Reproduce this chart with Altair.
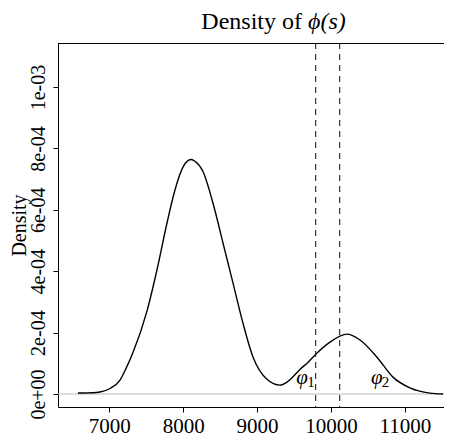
import altair as alt
import pandas as pd

# density curve
curve_x = [6576, 6780, 6874, 7010, 7145, 7230, 7321, 7510, 7645, 7781, 7889, 7997,
           8065, 8110, 8160, 8268, 8403, 8539, 8674, 8809, 8945, 9134, 9310, 9400,
           9486, 9580, 9689, 9784, 9987, 10217, 10393, 10623, 10839, 11069, 11340,
           11516]
curve_y = [3.3e-6, 4.0e-6, 6.5e-6, 1.8e-5, 4.56e-5, 8.5e-5, 1.35e-4, 2.7e-4, 4.04e-4,
           5.57e-4, 6.645e-4, 7.39e-4, 7.60e-4, 7.64e-4, 7.58e-4, 7.25e-4, 6.22e-4,
           4.92e-4, 3.62e-4, 2.31e-4, 1.205e-4, 4.8e-5, 2.9e-5, 3.8e-5, 5.6e-5,
           8.0e-5, 1.03e-4, 1.27e-4, 1.69e-4, 1.95e-4, 1.76e-4, 1.2e-4, 5.5e-5, 2e-5,
           3e-6, 0.0]

phi_values = [9793, 10118]
label_x = [9610, 10620]
label_y = [5.2e-5, 5.2e-5]
label_sub = ["1", "2"]

title_plain = "Density of"
title_math = "ϕ(s)"

x_ticks = [7000, 8000, 9000, 10000, 11000]
y_ticks = [0, 2e-4, 4e-4, 6e-4, 8e-4, 1e-3]
y_tick_labels = ["0e+00", "2e-04", "4e-04", "6e-04", "8e-04", "1e-03"]

W, H = 386, 364
FONT = "Liberation Serif"

df = pd.DataFrame({"x": curve_x, "y": curve_y})
phi_df = pd.DataFrame({"x": phi_values})
lab_df = pd.DataFrame({"x": label_x, "y": label_y, "sub": label_sub})

xscale = alt.Scale(domain=[6306, 11530], nice=False, zero=False)
yscale = alt.Scale(domain=[-4.23e-5, 1.1433e-3], nice=False, zero=False)

label_expr = "[" + ",".join(f"'{s}'" for s in y_tick_labels) + "][round(datum.value/2e-4)]"

xax = alt.Axis(values=x_ticks, format="d", title=None, grid=False, tickSize=5,
               labelPadding=3, labelFont=FONT, labelFontSize=21, labelColor="black",
               domainColor="black", tickColor="black", labelFlush=False)
yax = alt.Axis(values=y_ticks, labelExpr=label_expr, title="Density", grid=False,
               tickSize=5, labelAngle=-90, labelAlign="center", labelBaseline="bottom",
               labelPadding=5, labelFont=FONT, labelFontSize=20, labelColor="black",
               domainColor="black", tickColor="black", titleFont=FONT,
               titleFontSize=20, titleFontWeight="normal", titleColor="black",
               titleAngle=-90, titleAlign="center", titleBaseline="alphabetic",
               titleX=-33, titleY=H / 2, labelFlush=False)

base = alt.Chart(df)

zero_line = base.mark_rule(color="#bbbbbb", strokeWidth=1).encode(
    y=alt.Y("z:Q", scale=yscale, axis=yax)
).transform_calculate(z="0").transform_aggregate(z="min(z)")

top_line = base.mark_rule(color="black", strokeWidth=1).encode(
    y=alt.value(0.5)
)

curve = base.mark_line(color="black", strokeWidth=1.4, interpolate="monotone").encode(
    x=alt.X("x:Q", scale=xscale, axis=xax),
    y=alt.Y("y:Q", scale=yscale, axis=yax),
)

phis = alt.Chart(phi_df).mark_rule(color="#222222", strokeWidth=1.1,
                                   strokeDash=[6, 5]).encode(
    x=alt.X("x:Q", scale=xscale)
)

phi_text = alt.Chart(lab_df).mark_text(font=FONT, fontSize=21, fontStyle="italic",
                                       color="black", align="center",
                                       baseline="middle").encode(
    x=alt.X("x:Q", scale=xscale), y=alt.Y("y:Q", scale=yscale),
    text=alt.value("φ"),
)
sub_text = alt.Chart(lab_df).mark_text(font=FONT, fontSize=15, color="black",
                                       align="left", baseline="middle",
                                       dx=5, dy=4).encode(
    x=alt.X("x:Q", scale=xscale), y=alt.Y("y:Q", scale=yscale),
    text="sub:N",
)

# title, drawn as two texts so that the math part can be italic
title_a = alt.Chart(df).mark_text(font=FONT, fontSize=24, color="black",
                                  align="right", baseline="alphabetic").encode(
    x=alt.value(244), y=alt.value(-14), text=alt.value(title_plain)
).transform_aggregate(n="count()")
title_b = alt.Chart(df).mark_text(font=FONT, fontSize=24, fontStyle="italic",
                                  color="black", align="left",
                                  baseline="alphabetic").encode(
    x=alt.value(250), y=alt.value(-14), text=alt.value(title_math)
).transform_aggregate(n="count()")

chart = alt.layer(zero_line, top_line, curve, phis, phi_text, sub_text,
                  title_a, title_b).properties(
    width=W, height=H,
    autosize=alt.AutoSizeParams(type="none"),
    padding={"left": 50, "top": 35, "right": 0, "bottom": 30},
).configure_view(stroke=None)

chart.save("out.html", embed_options={"renderer": "svg", "actions": False})
